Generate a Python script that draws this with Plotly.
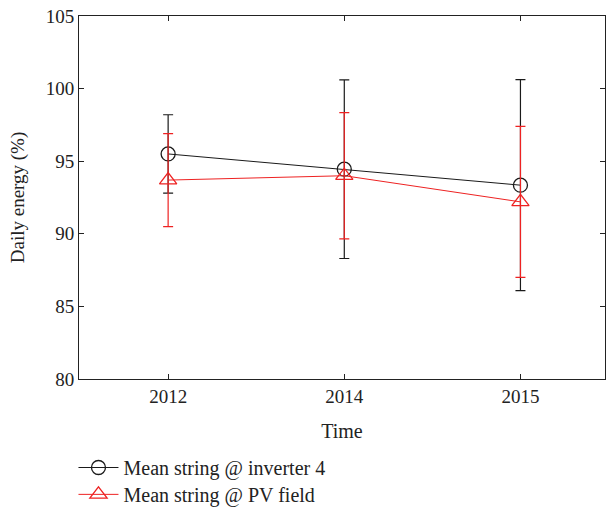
import plotly.graph_objects as go

years = ["2012", "2014", "2015"]
inv_mean = [95.5, 94.45, 93.35]
inv_err = [2.7, 6.15, 7.27]
pv_mean = [93.7, 94.0, 92.2]
pv_err = [3.2, 4.35, 5.2]

FONT = "Liberation Serif"

fig = go.Figure()
fig.add_trace(go.Scatter(
    x=years, y=inv_mean, mode="lines+markers", name="Mean string @ inverter 4",
    line=dict(color="#1a1a1a", width=1),
    marker=dict(symbol="circle-open", size=14, color="#1a1a1a", line=dict(width=1.3)),
    error_y=dict(type="data", array=inv_err, visible=True, color="#1a1a1a", thickness=1.2, width=5),
    legend="legend",
))
fig.add_trace(go.Scatter(
    x=years, y=pv_mean, mode="lines+markers", name="Mean string @ PV field",
    line=dict(color="#ee2222", width=1),
    marker=dict(symbol="triangle-up-open", size=15, color="#ee2222", line=dict(width=1.3)),
    error_y=dict(type="data", array=pv_err, visible=True, color="#ee2222", thickness=1.2, width=5),
    legend="legend2",
))

leg_common = dict(xanchor="left", yanchor="middle",
                  font=dict(family=FONT, size=20, color="#222"),
                  itemwidth=40, bgcolor="rgba(0,0,0,0)")

fig.update_layout(
    width=607, height=516,
    margin=dict(l=79, r=2, t=16, b=135),
    paper_bgcolor="white", plot_bgcolor="white",
    font=dict(family=FONT, size=19, color="#222"),
    showlegend=True,
    legend=dict(x=-0.0105, y=(381 - 470) / 365, **leg_common),
    legend2=dict(x=-0.0105, y=(381 - 497) / 365, **leg_common),
)
fig.update_xaxes(
    type="category", range=[-0.506, 2.48],
    showline=True, linecolor="#222", linewidth=1, mirror="ticks",
    ticks="inside", ticklen=5, tickcolor="#222",
    showgrid=False, zeroline=False,
    title=dict(text="Time", font=dict(family=FONT, size=20), standoff=18),
    tickfont=dict(family=FONT, size=19),
)
fig.update_yaxes(
    range=[80, 105], dtick=5,
    showline=True, linecolor="#222", linewidth=1, mirror="ticks",
    ticks="inside", ticklen=5, tickcolor="#222",
    showgrid=False, zeroline=False,
    title=dict(text="Daily energy (%)", font=dict(family=FONT, size=19), standoff=16),
    tickfont=dict(family=FONT, size=19),
)

fig.write_html("out.html")
